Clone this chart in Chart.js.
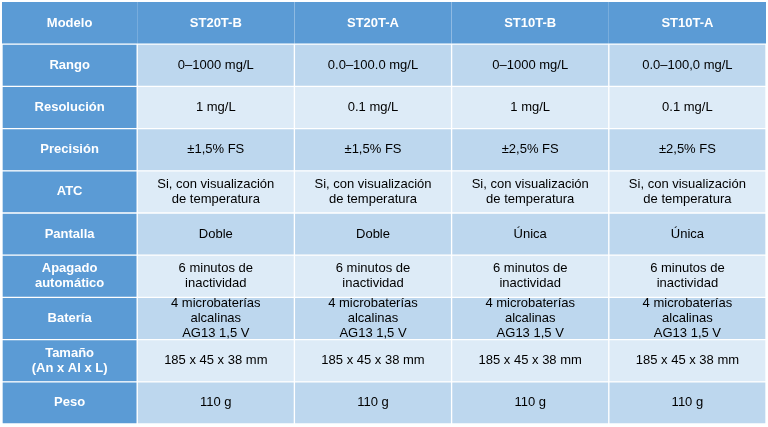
<!DOCTYPE html>
<html>
<head>
<meta charset="utf-8">
<script src="https://cdn.jsdelivr.net/npm/chart.js@4"></script>
<style>
  html, body { margin: 0; padding: 0; background: #fff; }
  #wrap { width: 768px; height: 427px; }
</style>
</head>
<body>
<div id="wrap"><canvas id="tabla"></canvas></div>
<script>
// filas (categorías) y columnas
const rowLabels = ['Modelo', 'Rango', 'Resolución', 'Precisión', 'ATC', 'Pantalla', 'Apagado\nautomático', 'Batería', 'Tamaño\n(An x Al x L)', 'Peso'];
const models = ['ST20T-B', 'ST20T-A', 'ST10T-B', 'ST10T-A'];
const rango = ['0–1000 mg/L', '0.0–100.0 mg/L', '0–1000 mg/L', '0.0–100,0 mg/L'];
const resolucion = ['1 mg/L', '0.1 mg/L', '1 mg/L', '0.1 mg/L'];
const precision = ['±1,5% FS', '±1,5% FS', '±2,5% FS', '±2,5% FS'];
const atc = ['Si, con visualización\nde temperatura', 'Si, con visualización\nde temperatura', 'Si, con visualización\nde temperatura', 'Si, con visualización\nde temperatura'];
const pantalla = ['Doble', 'Doble', 'Única', 'Única'];
const apagado = ['6 minutos de\ninactividad', '6 minutos de\ninactividad', '6 minutos de\ninactividad', '6 minutos de\ninactividad'];
const bateria = ['4 microbaterías\nalcalinas\nAG13 1,5 V', '4 microbaterías\nalcalinas\nAG13 1,5 V', '4 microbaterías\nalcalinas\nAG13 1,5 V', '4 microbaterías\nalcalinas\nAG13 1,5 V'];
const tamano = ['185 x 45 x 38 mm', '185 x 45 x 38 mm', '185 x 45 x 38 mm', '185 x 45 x 38 mm'];
const peso = ['110 g', '110 g', '110 g', '110 g'];
// ancho relativo de cada columna
const colWidths = [0.86, 1, 1, 1, 1];

const body = [models, rango, resolucion, precision, atc, pantalla, apagado, bateria, tamano, peso];
const HEADER = '#5b9bd5', DARK = '#bdd7ee', LIGHT = '#ddebf7';

function cellColor(row, col) {
    if (row === 0 || col === 0) return HEADER;
    return row % 2 === 1 ? DARK : LIGHT;
}

const datasets = colWidths.map((w, col) => ({
    data: rowLabels.map(() => w),
    texts: rowLabels.map((lab, row) => col === 0 ? lab : body[row][col - 1]),
    backgroundColor: ctx => cellColor(ctx.dataIndex, col),
    borderColor: '#ffffff',
    borderWidth: ctx => ctx.dataIndex === 0
        ? { top: 0, bottom: 1, left: 0, right: 0 }
        : { top: 1, bottom: 1, left: 1, right: 1 },
    borderSkipped: false,
    categoryPercentage: 1,
    barPercentage: 1
}));

// dibuja el texto de cada celda
const cellText = {
    id: 'cellText',
    afterDatasetsDraw(chart) {
        const c = chart.ctx;
        chart.data.datasets.forEach((ds, col) => {
            chart.getDatasetMeta(col).data.forEach((bar, row) => {
                const head = row === 0 || col === 0;
                const lines = ds.texts[row].split('\n');
                const x = (bar.x + bar.base) / 2;
                c.save();
                c.fillStyle = head ? '#ffffff' : '#000000';
                c.font = (head ? 'bold ' : '') + '13px "Liberation Sans", Arial, sans-serif';
                c.textAlign = 'center';
                c.textBaseline = 'middle';
                const lh = 15;
                lines.forEach((l, i) => c.fillText(l, x, bar.y + (i - (lines.length - 1) / 2) * lh));
                c.restore();
            });
        });
    }
};

new Chart(document.getElementById('tabla'), {
    type: 'bar',
    data: { labels: rowLabels, datasets: datasets },
    options: {
        indexAxis: 'y',
        responsive: true,
        maintainAspectRatio: false,
        animation: false,
        layout: { padding: { left: 2, right: 2, top: 2, bottom: 3 } },
        plugins: { legend: { display: false }, tooltip: { enabled: false } },
        scales: {
            x: { stacked: true, display: false, min: 0, max: 4.86 },
            y: { stacked: true, display: false }
        }
    },
    plugins: [cellText]
});
</script>
</body>
</html>
